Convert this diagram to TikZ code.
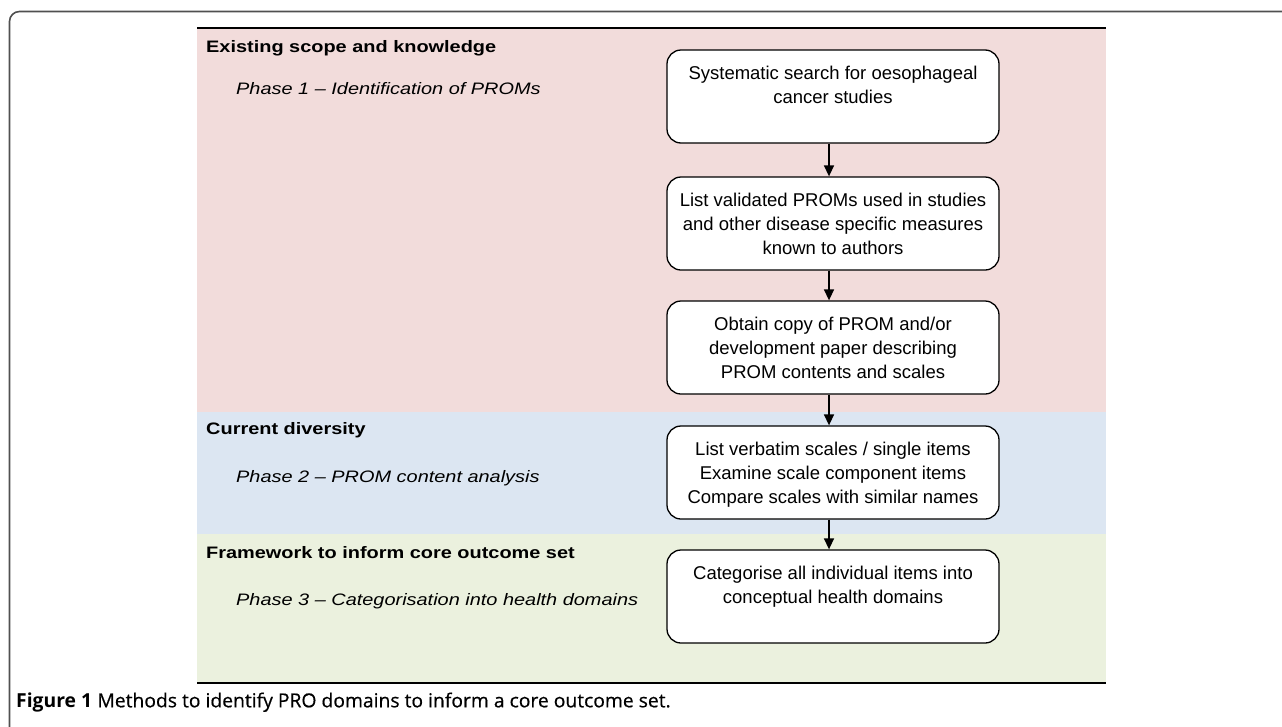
\documentclass[tikz,border=0pt]{standalone}
\usepackage{fontspec}
\setmainfont{Liberation Sans}
\newfontfamily\lblfont[FakeStretch=1.2]{Liberation Sans}
\newfontfamily\capfont[FakeBold=0.5]{Open Sans}
\newfontfamily\capbold{Open Sans Bold}
\usetikzlibrary{arrows.meta}
\definecolor{pinkbg}{HTML}{F2DCDB}
\definecolor{bluebg}{HTML}{DCE6F2}
\definecolor{greenbg}{HTML}{EBF1DE}
\definecolor{framec}{HTML}{505050}
\newcommand\boxtxt[1]{\begin{minipage}[c][93pt][t]{330pt}\centering\rule{0pt}{29.5pt}#1\end{minipage}}
\tikzset{
  boxst/.style={draw, line width=1.3, rounded corners=14, fill=white, inner sep=0,
    minimum width=332, minimum height=93, font=\fontsize{18.5}{24}\selectfont},
  arr/.style={line width=1.5, -{Triangle[length=11pt,width=10pt]}},
  headst/.style={anchor=base west, inner sep=0, font=\lblfont\bfseries\fontsize{16.6}{20}\selectfont},
  phasest/.style={anchor=base west, inner sep=0, font=\lblfont\itshape\fontsize{16.6}{20}\selectfont},
  capst/.style={anchor=base west, inner sep=0, font=\fontsize{19.3}{22}\selectfont},
}
\begin{document}
\begin{tikzpicture}[x=1pt,y=-1pt]
\useasboundingbox (0,0) rectangle (1282,726);
% outer frame
\draw[framec, line width=1.6, rounded corners=10] (9.5,730) -- (9.5,11.5) -- (1290,11.5);
% bands
\fill[pinkbg] (197,28) rectangle (1106,412);
\fill[bluebg] (197,412) rectangle (1106,533.5);
\fill[greenbg] (197,533.5) rectangle (1106,683);
\draw[line width=1.2] (197,28) -- (1106,28);
\draw[line width=1.2] (197,683) -- (1106,683);
% left labels
\node[headst] (h1) at (206,52.7) {Existing scope and knowledge};
\node[phasest] (p1) at (236,94) {Phase 1 – Identification of PROMs};
\node[headst] (h2) at (206,434.3) {Current diversity};
\node[phasest] (p2) at (236,482.7) {Phase 2 – PROM content analysis};
\node[headst] (h3) at (206,558) {Framework to inform core outcome set};
\node[phasest] (p3) at (236,605.7) {Phase 3 – Categorisation into health domains};
% boxes
\node[boxst] (b1) at (833,96.5) {\boxtxt{Systematic search for oesophageal\\cancer studies}};
\node[boxst] (b2) at (833,223.5) {\boxtxt{List validated PROMs used in studies\\and other disease specific measures\\known to authors}};
\node[boxst] (b3) at (833,347.5) {\boxtxt{Obtain copy of PROM and/or\\development paper describing\\PROM contents and scales}};
\node[boxst] (b4) at (833,472.5) {\boxtxt{List verbatim scales / single items\\Examine scale component items\\Compare scales with similar names}};
\node[boxst] (b5) at (833,596.5) {\boxtxt{Categorise all individual items into\\conceptual health domains}};
% arrows
\draw[arr] ([xshift=-4pt]b1.south) -- ([xshift=-4pt]b2.north);
\draw[arr] ([xshift=-4pt]b2.south) -- ([xshift=-4pt]b3.north);
\draw[arr] ([xshift=-4pt]b3.south) -- ([xshift=-4pt]b4.north);
\draw[arr] ([xshift=-4pt]b4.south) -- ([xshift=-4pt]b5.north);
% caption
\node[capst] (cap) at (16,707.3) {{\capbold Figure 1} {\capfont Methods to identify PRO domains to inform a core outcome set.}};
\end{tikzpicture}
\end{document}
